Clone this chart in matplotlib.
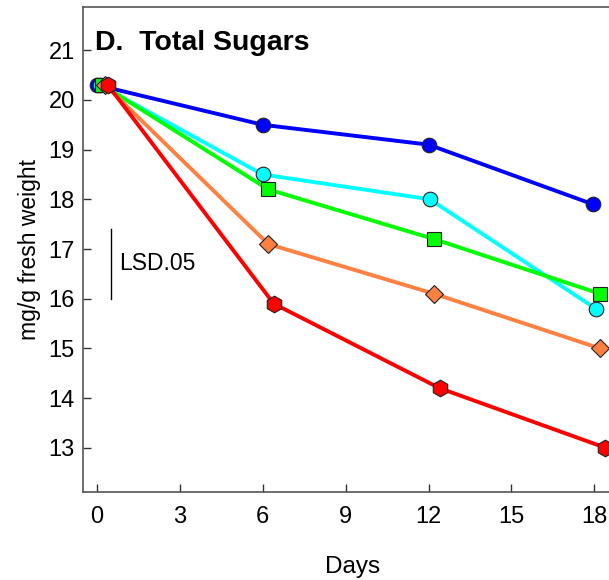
import matplotlib
matplotlib.use("Agg")
import matplotlib.pyplot as plt

plt.rcParams['font.family'] = ['Liberation Sans', 'DejaVu Sans']

days_blue = [0.0, 6.0, 12.0, 17.95]
sugar_blue = [20.3, 19.5, 19.1, 17.9]
days_cyan = [0.1, 6.0, 12.05, 18.05]
sugar_cyan = [20.3, 18.5, 18.0, 15.8]
days_green = [0.2, 6.2, 12.2, 18.2]
sugar_green = [20.3, 18.2, 17.2, 16.1]
days_orange = [0.3, 6.2, 12.2, 18.2]
sugar_orange = [20.3, 17.1, 16.1, 15.0]
days_red = [0.4, 6.4, 12.4, 18.4]
sugar_red = [20.3, 15.9, 14.2, 13.0]

lsd_x = 0.5
lsd_low, lsd_high = 16.0, 17.4

x_ticks = [0, 3, 6, 9, 12, 15, 18]
y_ticks = [13, 14, 15, 16, 17, 18, 19, 20, 21]


def main():
    fig = plt.figure(figsize=(6.09, 5.80), dpi=100)
    # the plot runs past the right edge of the picture, as in the original
    ax = fig.add_axes([83 / 609, 88 / 580, (622 - 83) / 609, (492 - 7) / 580])

    series = [
        (days_blue, sugar_blue, '#0000FF', 'o', 10.5),
        (days_cyan, sugar_cyan, '#00FFFF', 'o', 10.5),
        (days_green, sugar_green, '#00FF00', 's', 10),
        (days_orange, sugar_orange, '#FF8040', 'D', 9.5),
        (days_red, sugar_red, '#FF0000', 'h', 12),
    ]
    for x, y, c, m, ms in series:
        ax.plot(x, y, color=c, lw=2.8, marker=m, markersize=ms,
                markerfacecolor=c, markeredgecolor='#222222', markeredgewidth=0.8)

    # LSD bar
    ax.plot([lsd_x, lsd_x], [lsd_low, lsd_high], color='black', lw=1)
    ax.text(lsd_x + 0.32, (lsd_low + lsd_high) / 2, 'LSD.05', fontsize=16.5,
            va='center', ha='left')

    ax.text(-0.05, 21.0, 'D.  Total Sugars', fontsize=20.5, fontweight='bold',
            va='baseline', ha='left')

    ax.set_xlim(-0.5, 19)
    ax.set_ylim(12.11, 21.87)
    ax.set_xticks(x_ticks)
    ax.set_yticks(y_ticks)
    ax.tick_params(direction='in', length=6, width=1, color='#333333', labelsize=17)
    ax.tick_params(axis='x', pad=10)
    ax.tick_params(axis='y', pad=6)

    ax.spines['right'].set_visible(False)
    for s in ['left', 'bottom', 'top']:
        ax.spines[s].set_color('#555555')
        ax.spines[s].set_linewidth(1.2)

    ax.set_xlabel('Days', fontsize=17.5, labelpad=20)
    ax.set_ylabel('mg/g fresh weight', fontsize=16.5, labelpad=5)

    fig.savefig('out.png', dpi=100)


if __name__ == "__main__":
    main()
